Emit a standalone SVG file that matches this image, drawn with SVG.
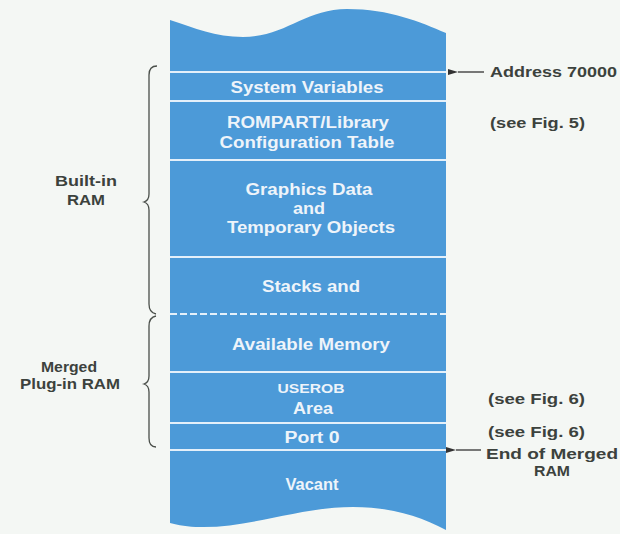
<svg xmlns="http://www.w3.org/2000/svg" width="620" height="534" viewBox="0 0 620 534">
<defs>
<style>
.col{fill:#4c9ad8}
.sep{stroke:#e4f0fa;stroke-width:2;fill:none}
.in{font-family:"Liberation Sans",Arial,sans-serif;font-weight:bold;fill:#eef4fa;text-anchor:middle;font-size:16px}
.out{font-family:"Liberation Sans",Arial,sans-serif;font-weight:bold;fill:#3c423d;font-size:15px}
.brace{stroke:#4a4f4a;stroke-width:1.3;fill:none}
.arr{stroke:#333;stroke-width:1.3;fill:none}
</style>
<marker id="ah" markerWidth="10" markerHeight="8" refX="0" refY="4" orient="auto-start-reverse" markerUnits="userSpaceOnUse">
<path d="M0,4 L10,1 L10,7 Z" fill="#333"/>
</marker>
</defs>
<rect width="620" height="534" fill="#f4f7f4"/>
<g id="memory-column">
<path class="col" d="M170,20 C195,28 215,37 243,37 C285,37 305,9 347,9 C390,9 420,22 446,33 L446,530 C420,516 390,507 353,507 C300,507 250,528 200,527 C188,527 178,525 170,523 Z"/>
</g>
<g id="separators">
<line class="sep" x1="170" y1="72" x2="446" y2="72"/>
<line class="sep" x1="170" y1="101" x2="446" y2="101"/>
<line class="sep" x1="170" y1="160" x2="446" y2="160"/>
<line class="sep" x1="170" y1="257" x2="446" y2="257"/>
<line class="sep" x1="170" y1="314" x2="446" y2="314" stroke-dasharray="7,3"/>
<line class="sep" x1="170" y1="372" x2="446" y2="372"/>
<line class="sep" x1="170" y1="423" x2="446" y2="423"/>
<line class="sep" x1="170" y1="450" x2="446" y2="450"/>
</g>
<g id="system-variables"><text class="in" x="307" y="93" textLength="153" lengthAdjust="spacingAndGlyphs">System Variables</text></g>
<g id="rompart"><text class="in" x="308" y="128" textLength="162" lengthAdjust="spacingAndGlyphs">ROMPART/Library</text><text class="in" x="307" y="148" textLength="175" lengthAdjust="spacingAndGlyphs">Configuration Table</text></g>
<g id="graphics"><text class="in" x="309" y="195" textLength="127" lengthAdjust="spacingAndGlyphs">Graphics Data</text><text class="in" x="309" y="214" textLength="32" lengthAdjust="spacingAndGlyphs">and</text><text class="in" x="311" y="233" textLength="168" lengthAdjust="spacingAndGlyphs">Temporary Objects</text></g>
<g id="stacks"><text class="in" x="311" y="292" textLength="98" lengthAdjust="spacingAndGlyphs">Stacks and</text></g>
<g id="available"><text class="in" x="311" y="350" textLength="158" lengthAdjust="spacingAndGlyphs">Available Memory</text></g>
<g id="userob"><text class="in" x="311" y="393" style="font-size:12px" textLength="67" lengthAdjust="spacingAndGlyphs">USEROB</text><text class="in" x="313" y="414" textLength="40" lengthAdjust="spacingAndGlyphs">Area</text></g>
<g id="port0"><text class="in" x="312" y="443" textLength="55" lengthAdjust="spacingAndGlyphs">Port 0</text></g>
<g id="vacant"><text class="in" x="312" y="490" textLength="53" lengthAdjust="spacingAndGlyphs">Vacant</text></g>
<g id="braces">
<path class="brace" d="M157,66 C151,66 149,69 149,75 L149,194 C149,199 147,201 144,202 C147,203 149,205 149,210 L149,304 C149,310 151,313 156,314"/>
<path class="brace" d="M156,316 C151,317 149,320 149,326 L149,376 C149,381 147,383 144,384 C147,385 149,387 149,392 L149,438 C149,444 151,447 156,447"/>
</g>
<g id="built-in-label"><text class="out" x="86" y="186" text-anchor="middle" textLength="62" lengthAdjust="spacingAndGlyphs">Built-in</text><text class="out" x="86" y="205" text-anchor="middle" textLength="38" lengthAdjust="spacingAndGlyphs">RAM</text></g>
<g id="merged-label"><text class="out" x="69" y="372" text-anchor="middle" textLength="56" lengthAdjust="spacingAndGlyphs">Merged</text><text class="out" x="70" y="389" text-anchor="middle" textLength="100" lengthAdjust="spacingAndGlyphs">Plug-in RAM</text></g>
<g id="connectors">
<line class="arr" x1="484" y1="72" x2="458" y2="72" marker-end="url(#ah)"/>
<line class="arr" x1="481" y1="450" x2="456" y2="450" marker-end="url(#ah)"/>
</g>
<g id="address-label"><text class="out" x="490" y="77" textLength="127" lengthAdjust="spacingAndGlyphs">Address 70000</text></g>
<g id="fig5-label"><text class="out" x="490" y="128" textLength="95" lengthAdjust="spacingAndGlyphs">(see Fig. 5)</text></g>
<g id="fig6-label-a"><text class="out" x="488" y="404" textLength="97" lengthAdjust="spacingAndGlyphs">(see Fig. 6)</text></g>
<g id="fig6-label-b"><text class="out" x="488" y="437" textLength="97" lengthAdjust="spacingAndGlyphs">(see Fig. 6)</text></g>
<g id="end-label"><text class="out" x="552" y="459" text-anchor="middle" textLength="132" lengthAdjust="spacingAndGlyphs">End of Merged</text><text class="out" x="552" y="476" text-anchor="middle" textLength="36" lengthAdjust="spacingAndGlyphs">RAM</text></g>
</svg>
